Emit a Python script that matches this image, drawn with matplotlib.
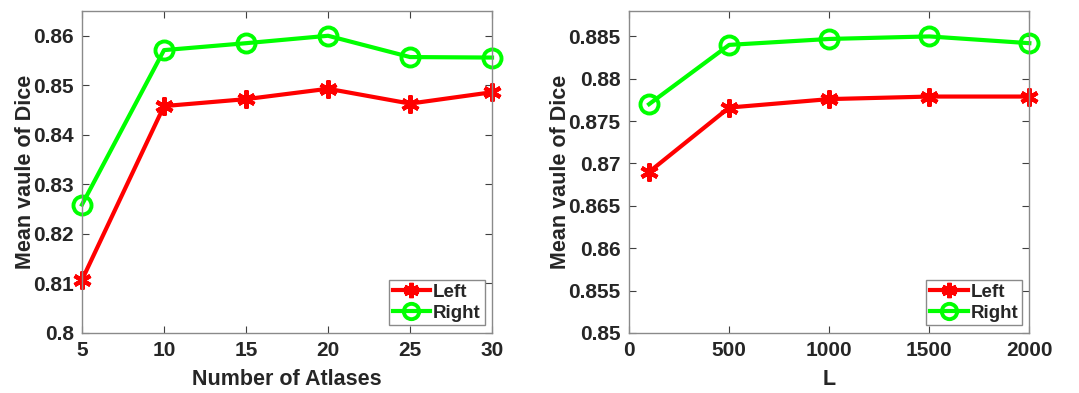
import matplotlib
matplotlib.use('Agg')
import matplotlib.pyplot as plt

# Left panel: number of atlases
atlases = [5, 10, 15, 20, 25, 30]
left_atlas = [0.8107, 0.8458, 0.8472, 0.8493, 0.8463, 0.8486]
right_atlas = [0.8259, 0.8571, 0.8585, 0.8600, 0.8557, 0.8556]

# Right panel: L
l_values = [100, 500, 1000, 1500, 2000]
left_l = [0.8690, 0.8766, 0.8776, 0.8779, 0.8779]
right_l = [0.8770, 0.8840, 0.8847, 0.8850, 0.8842]

plt.rcParams['font.family'] = ['Liberation Sans', 'DejaVu Sans']
plt.rcParams['font.weight'] = 'bold'

EDGE = '#8a8a8a'
TXT = '#262626'


def style_axes(ax):
    for s in ax.spines.values():
        s.set_color(EDGE)
        s.set_linewidth(1.0)
    ax.tick_params(direction='in', top=True, right=True, length=5,
                   color='#404040', labelsize=15, pad=6)
    for lbl in ax.get_xticklabels() + ax.get_yticklabels():
        lbl.set_fontweight('bold')
        lbl.set_color(TXT)


def draw(ax, x, left, right):
    ax.plot(x, left, color='red', linewidth=3, marker=(6, 2, 0),
            markersize=13, markeredgewidth=3, label='Left', clip_on=False)
    ax.plot(x, right, color='#00ff00', linewidth=3, marker='o',
            markersize=13, markerfacecolor='none', markeredgewidth=2.8,
            label='Right', clip_on=False)
    leg = ax.legend(loc='lower right', fancybox=False, framealpha=1,
                    edgecolor=EDGE, fontsize=13.5, handlelength=2.0,
                    borderpad=0.2, labelspacing=0.2, handletextpad=0.15,
                    borderaxespad=0.4, markerscale=0.85)
    for t in leg.get_texts():
        t.set_fontweight('bold')
        t.set_color(TXT)


fig = plt.figure(figsize=(10.79, 3.93), dpi=100)
ax1 = fig.add_axes([0.076, 0.153, 0.380, 0.819])
ax2 = fig.add_axes([0.583, 0.153, 0.371, 0.819])

draw(ax1, atlases, left_atlas, right_atlas)
ax1.set_xlim(5, 30)
ax1.set_ylim(0.8, 0.865)
ax1.set_xticks([5, 10, 15, 20, 25, 30])
ax1.set_yticks([0.8, 0.81, 0.82, 0.83, 0.84, 0.85, 0.86])
ax1.set_yticklabels(['0.8', '0.81', '0.82', '0.83', '0.84', '0.85', '0.86'])
ax1.set_xlabel('Number of Atlases', fontsize=15.5, fontweight='bold', color=TXT, labelpad=6)
ax1.set_ylabel('Mean vaule of Dice', fontsize=15.5, fontweight='bold', color=TXT, labelpad=-2)
style_axes(ax1)

draw(ax2, l_values, left_l, right_l)
ax2.set_xlim(0, 2000)
ax2.set_ylim(0.85, 0.888)
ax2.set_xticks([0, 500, 1000, 1500, 2000])
ax2.set_yticks([0.85, 0.855, 0.86, 0.865, 0.87, 0.875, 0.88, 0.885])
ax2.set_yticklabels(['0.85', '0.855', '0.86', '0.865', '0.87', '0.875', '0.88', '0.885'])
ax2.set_xlabel('L', fontsize=15.5, fontweight='bold', color=TXT, labelpad=6)
ax2.set_ylabel('Mean vaule of Dice', fontsize=15.5, fontweight='bold', color=TXT, labelpad=-2)
style_axes(ax2)

fig.savefig('out.png', dpi=100)
plt.close(fig)
